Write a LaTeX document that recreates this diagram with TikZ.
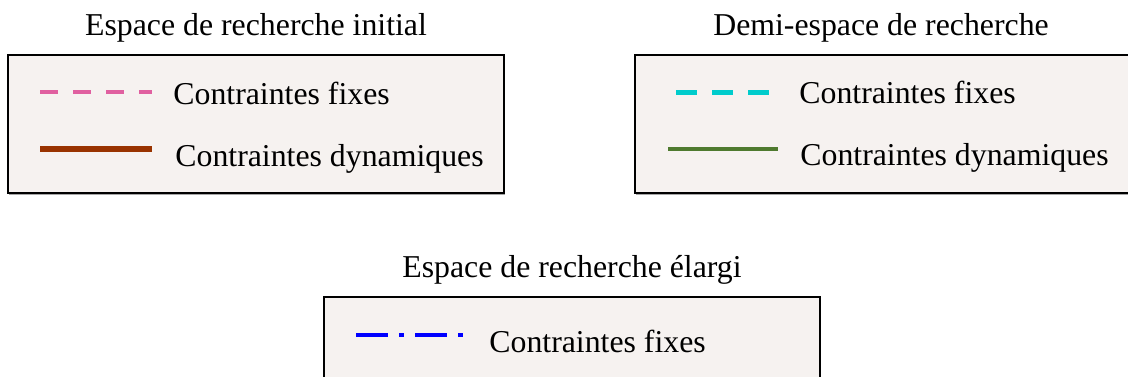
\documentclass[tikz,border=0pt]{standalone}
\usepackage{fontspec}
\setmainfont{Liberation Serif}
\definecolor{legendbg}{RGB}{246,242,240}
\definecolor{fixpink}{RGB}{224,96,160}
\definecolor{dynbrown}{RGB}{153,51,0}
\definecolor{fixcyan}{RGB}{0,204,204}
\definecolor{dyngreen}{RGB}{79,122,47}
\definecolor{fixblue}{RGB}{0,0,255}

\begin{document}
\begin{tikzpicture}[x=0.5pt, y=-0.5pt,
    legendbox/.style={draw=black, line width=1.2pt, fill=legendbg},
    boxshadow/.style={fill=gray!70},
    title/.style={anchor=base, inner sep=0pt, font=\fontsize{15.9}{19}\selectfont},
    entry/.style={anchor=base west, inner sep=0pt, font=\fontsize{15.9}{19}\selectfont}]
  \useasboundingbox (0,0) rectangle (1128,376);
  %--- initial search space ---
  \node[title] (ini-title) at (256,35) {Espace de recherche initial};
  \fill[boxshadow] (9,58) rectangle (505,195);
  \draw[legendbox] (8,55) rectangle (504,193);
  \coordinate (ini-fix-a) at (40,92);
  \coordinate (ini-fix-b) at (152,92);
  \coordinate (ini-dyn-a) at (40,149);
  \coordinate (ini-dyn-b) at (152,149);
  \draw[fixpink, line width=2pt, dash pattern=on 9pt off 7.5pt] (ini-fix-a) -- (ini-fix-b);
  \draw[dynbrown, line width=3pt] (ini-dyn-a) -- (ini-dyn-b);
  \node[entry] (ini-fix) at (173,104) {Contraintes fixes};
  \node[entry] (ini-dyn) at (175,166) {Contraintes dynamiques};
  %--- half search space ---
  \node[title] (demi-title) at (881,35) {Demi-espace de recherche};
  \fill[boxshadow] (636,58) rectangle (1133,195);
  \draw[legendbox] (635,55) rectangle (1131,193);
  \coordinate (demi-fix-a) at (676,92);
  \coordinate (demi-fix-b) at (770,92);
  \coordinate (demi-dyn-a) at (668,149);
  \coordinate (demi-dyn-b) at (778,149);
  \draw[fixcyan, line width=2.5pt, dash pattern=on 10.5pt off 7.5pt] (demi-fix-a) -- (demi-fix-b);
  \draw[dyngreen, line width=2pt] (demi-dyn-a) -- (demi-dyn-b);
  \node[entry] (demi-fix) at (799,103) {Contraintes fixes};
  \node[entry] (demi-dyn) at (800,165) {Contraintes dynamiques};
  %--- enlarged search space ---
  \node[title] (elargi-title) at (572,277) {Espace de recherche élargi};
  \draw[legendbox] (324,297) rectangle (820,440);
  \coordinate (elargi-fix-a) at (356,335);
  \coordinate (elargi-fix-b) at (464,335);
  \draw[fixblue, line width=2pt, dash pattern=on 16pt off 5.5pt on 2.5pt off 5.5pt] (elargi-fix-a) -- (elargi-fix-b);
  \node[entry] (elargi-fix) at (489,352) {Contraintes fixes};
\end{tikzpicture}
\end{document}
